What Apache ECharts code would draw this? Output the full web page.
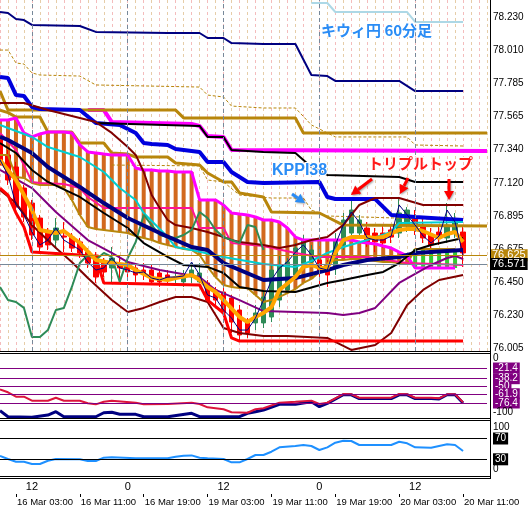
<!DOCTYPE html>
<html>
<head>
<meta charset="utf-8">
<script src="https://cdn.jsdelivr.net/npm/echarts@6/dist/echarts.min.js"></script>
<style>
  html, body { margin: 0; padding: 0; background: #fff; }
  #chart { width: 531px; height: 512px; }
</style>
</head>
<body>
<div id="chart"></div>
<script>
// hourly bars: 16 Mar 01:00-23:00, then 19 Mar 00:00 .. 20 Mar 14:00 (last three bars empty)
function hourLabels(day, from, to) {
  const out = [];
  for (let h = from; h <= to; h++) out.push(day + ' ' + String(h).padStart(2, '0') + ':00');
  return out;
}
const categories = [].concat(hourLabels('16 Mar', 1, 23), hourLabels('19 Mar', 0, 23), hourLabels('20 Mar', 0, 14));
const timeTicks = ['16 Mar 03:00', '16 Mar 11:00', '16 Mar 19:00', '19 Mar 03:00', '19 Mar 11:00', '19 Mar 19:00', '20 Mar 03:00', '20 Mar 11:00'];
const sessionMarks = { '16 Mar 05:00': '12', '16 Mar 17:00': '0', '19 Mar 05:00': '12', '19 Mar 17:00': '0', '20 Mar 05:00': '12' };
const priceTicks = ['76.005', '76.230', '76.450', '76.675', '76.895', '77.120', '77.340', '77.565', '77.785', '78.010', '78.230'];

// [open, close, low, high]
const candles = [
  [77.406, 77.237, 77.204, 77.440], [77.305, 77.136, 77.103, 77.338], [77.224, 76.954, 76.921, 77.258],
  [77.082, 76.887, 76.853, 77.103], [76.981, 76.766, 76.732, 77.002], [76.880, 76.685, 76.645, 76.901],
  [76.786, 76.699, 76.665, 76.813], [76.732, 76.813, 76.685, 76.880], [76.759, 76.752, 76.651, 76.853],
  [76.752, 76.678, 76.651, 76.779], [76.719, 76.645, 76.611, 76.746], [76.651, 76.577, 76.544, 76.678],
  [76.631, 76.483, 76.443, 76.651], [76.584, 76.517, 76.483, 76.611], [76.544, 76.611, 76.443, 76.685],
  [76.564, 76.544, 76.443, 76.631], [76.577, 76.517, 76.476, 76.611], [76.544, 76.497, 76.450, 76.577],
  [76.530, 76.510, 76.463, 76.577], [76.530, 76.450, 76.429, 76.564], [76.510, 76.450, 76.416, 76.530],
  [76.497, 76.476, 76.443, 76.530], [76.476, 76.483, 76.443, 76.530], [76.450, 76.497, 76.416, 76.530],
  [76.483, 76.530, 76.443, 76.577], [76.450, 76.510, 76.443, 76.577], [76.443, 76.328, 76.308, 76.463],
  [76.396, 76.328, 76.295, 76.416], [76.382, 76.241, 76.214, 76.409], [76.342, 76.180, 76.106, 76.362],
  [76.261, 76.093, 76.059, 76.295], [76.180, 76.106, 76.073, 76.207], [76.174, 76.241, 76.126, 76.295],
  [76.174, 76.349, 76.140, 76.396], [76.214, 76.530, 76.180, 76.564], [76.328, 76.564, 76.281, 76.631],
  [76.396, 76.584, 76.375, 76.611], [76.497, 76.678, 76.463, 76.712], [76.577, 76.732, 76.544, 76.766],
  [76.584, 76.665, 76.564, 76.699], [76.598, 76.517, 76.429, 76.631], [76.571, 76.497, 76.416, 76.598],
  [76.544, 76.732, 76.497, 76.779], [76.699, 76.867, 76.665, 76.914], [76.779, 76.934, 76.732, 77.002],
  [76.779, 76.867, 76.746, 76.901], [76.813, 76.719, 76.685, 76.853], [76.779, 76.719, 76.651, 76.813],
  [76.779, 76.712, 76.678, 76.833], [76.800, 76.752, 76.712, 76.833], [76.779, 76.914, 76.746, 77.022],
  [76.833, 76.934, 76.786, 76.954], [76.880, 76.813, 76.766, 76.934], [76.820, 76.746, 76.712, 76.880],
  [76.766, 76.699, 76.665, 76.813], [76.786, 76.746, 76.699, 76.833], [76.746, 76.833, 76.712, 76.981],
  [76.779, 76.867, 76.746, 76.914], [76.786, 76.645, 76.551, 76.833]
];

// cloud boundaries per bar
const spanA = [77.540, 77.540, 77.554, 77.453, 77.426, 77.446, 77.459, 77.459, 77.459, 77.453, 77.372, 77.325, 77.318, 77.311, 77.305, 77.305, 77.305, 77.217, 77.204, 77.204, 77.197, 77.197, 77.190, 77.190, 77.190, 77.002, 77.002, 77.002, 76.968, 76.914, 76.907, 76.901, 76.887, 76.867, 76.867, 76.853, 76.813, 76.752, 76.732, 76.732, 76.732, 76.732, 76.732, 76.732, 76.732, 76.719, 76.712, 76.705, 76.692, 76.678, 76.651, 76.625, 76.544, 76.544, 76.544, 76.544, 76.544, 76.544];
const spanB = [77.305, 77.305, 77.156, 77.150, 77.116, 77.103, 77.103, 77.103, 77.082, 77.002, 76.901, 76.820, 76.806, 76.800, 76.793, 76.786, 76.779, 76.759, 76.746, 76.732, 76.712, 76.699, 76.685, 76.672, 76.665, 76.631, 76.551, 76.483, 76.429, 76.416, 76.409, 76.409, 76.362, 76.315, 76.328, 76.349, 76.375, 76.402, 76.443, 76.470, 76.517, 76.577, 76.598, 76.598, 76.604, 76.604, 76.598, 76.591, 76.584, 76.584, 76.577, 76.571, 76.672, 76.672, 76.672, 76.672, 76.672, 76.672];

// indicator lines: [bar, price]
const lightBlue = [[39, 78.328], [41, 78.328], [42, 78.267], [51, 78.267], [52, 78.200], [58, 78.200]];
const navyTop = [[0, 78.267], [1, 78.260], [2, 78.220], [3, 78.213], [4, 78.180], [10, 78.173], [12, 78.133], [21, 78.126], [25, 78.126], [26, 78.092], [28, 78.092], [29, 78.058], [33, 78.052], [37, 78.052], [39, 77.843], [41, 77.836], [42, 77.803], [50, 77.803], [52, 77.735], [58, 77.735]];
const goldDashUpper = [[0, 78.011], [1, 78.011], [2, 77.924], [3, 77.917], [4, 77.857], [5, 77.843], [10, 77.836], [12, 77.776], [25, 77.762], [26, 77.708], [28, 77.695], [29, 77.634], [33, 77.621], [37, 77.621], [39, 77.507], [42, 77.426], [51, 77.426], [52, 77.372], [58, 77.365]];
const goldUpper = [[0, 77.735], [1, 77.607], [22, 77.607], [23, 77.554], [37, 77.554], [38, 77.453], [61, 77.453]];
const goldLower = [[0, 77.607], [1, 77.590], [2, 77.560], [5, 77.560], [6, 77.459], [9, 77.459], [10, 77.385], [13, 77.385], [14, 77.318], [16, 77.311], [17, 77.291], [21, 77.291], [22, 77.251], [25, 77.237], [26, 77.183], [28, 77.123], [29, 77.123], [30, 77.049], [33, 77.022], [34, 76.921], [40, 76.914], [41, 76.887], [43, 76.833], [61, 76.827]];
const goldDashLower = [[14, 77.237], [25, 77.231], [26, 77.136], [28, 77.123], [30, 77.035], [34, 77.015], [38, 77.015], [39, 76.934], [41, 76.894], [58, 76.867]];
const magentaUpper = [[11, 77.607], [13, 77.607], [14, 77.527], [24, 77.513], [25, 77.500], [26, 77.432], [28, 77.426], [29, 77.338], [61, 77.331]];
const blueLine = [[0, 77.830], [1, 77.823], [2, 77.708], [3, 77.702], [4, 77.628], [5, 77.614], [10, 77.607], [12, 77.520], [15, 77.507], [17, 77.453], [18, 77.385], [19, 77.379], [21, 77.372], [22, 77.345], [25, 77.325], [26, 77.257], [28, 77.257], [29, 77.190], [31, 77.123], [33, 77.116], [40, 77.123], [41, 77.022], [42, 77.008], [47, 77.008], [49, 76.901], [52, 76.887], [58, 76.867]];
const blackUpper = [[12, 77.520], [25, 77.500], [26, 77.426], [28, 77.426], [29, 77.338], [33, 77.325], [37, 77.318], [38, 77.271], [39, 77.224], [41, 77.170], [50, 77.156], [52, 77.123], [58, 77.123]];
const cyanLine = [[0, 77.507], [1, 77.486], [4, 77.426], [6, 77.358], [10, 77.291], [13, 77.190], [15, 77.082], [17, 77.002], [18, 76.914], [21, 76.752], [22, 76.685], [24, 76.665], [28, 76.618], [33, 76.571], [37, 76.551], [39, 76.591], [41, 76.645], [43, 76.685], [46, 76.732], [49, 76.786], [50, 76.847], [58, 76.853]];
const pinkLine = [[0, 77.453], [2, 77.338], [3, 77.237], [4, 77.123], [5, 77.116], [8, 77.109], [10, 77.082], [11, 77.022], [13, 76.948], [24, 76.948], [25, 76.813], [28, 76.813], [29, 76.712], [33, 76.692], [37, 76.645], [40, 76.618], [46, 76.618], [51, 76.577], [58, 76.564]];
const navyMA = [[0, 77.426], [1, 77.406], [4, 77.318], [6, 77.224], [10, 77.089], [13, 76.981], [16, 76.880], [20, 76.779], [24, 76.685], [26, 76.665], [28, 76.577], [33, 76.463], [37, 76.476], [41, 76.530], [43, 76.564], [46, 76.598], [50, 76.618], [52, 76.645], [58, 76.665]];
const blackMA = [[0, 77.385], [2, 77.318], [4, 77.204], [6, 77.123], [10, 77.022], [13, 76.914], [16, 76.813], [18, 76.712], [21, 76.618], [23, 76.564], [26, 76.551], [28, 76.510], [30, 76.416], [33, 76.389], [37, 76.382], [41, 76.443], [43, 76.463], [46, 76.497], [48, 76.517], [50, 76.577], [52, 76.665], [54, 76.699], [58, 76.746]];
const maroonUpper = [[0, 77.655], [3, 77.655], [6, 77.607], [12, 77.527], [14, 77.453], [16, 77.358], [17, 77.305], [18, 77.190], [19, 77.035], [20, 76.948], [21, 76.867], [22, 76.833], [24, 76.813], [26, 76.786], [28, 76.752], [29, 76.732], [30, 76.719], [33, 76.699], [35, 76.678], [37, 76.699], [39, 76.732], [41, 76.752], [43, 76.833], [45, 76.968], [47, 77.015], [50, 77.015], [53, 76.968], [58, 76.968]];
const maroonLower = [[0, 77.069], [2, 76.981], [4, 76.833], [7, 76.678], [9, 76.584], [11, 76.476], [14, 76.328], [16, 76.248], [18, 76.275], [20, 76.315], [22, 76.349], [24, 76.349], [26, 76.315], [28, 76.140], [30, 76.106], [33, 76.086], [36, 76.086], [41, 76.073], [44, 75.992], [47, 76.025], [49, 76.106], [51, 76.295], [53, 76.396], [55, 76.463], [58, 76.497]];
const purpleLine = [[0, 77.204], [4, 77.082], [7, 76.921], [11, 76.732], [14, 76.645], [16, 76.584], [20, 76.530], [25, 76.483], [27, 76.396], [30, 76.328], [33, 76.254], [41, 76.241], [43, 76.227], [45, 76.241], [47, 76.275], [50, 76.443], [54, 76.564], [56, 76.611], [57, 76.625], [58, 76.604]];
const lowestLow = [[0, 77.082], [1, 77.035], [2, 76.914], [3, 76.820], [4, 76.651], [10, 76.631], [12, 76.618], [13, 76.443], [25, 76.429], [26, 76.328], [28, 76.241], [29, 76.073], [30, 76.052], [58, 76.052]];
const chikou = [[0, 76.416], [1, 76.328], [2, 76.315], [3, 76.275], [4, 76.079], [5, 76.079], [6, 76.126], [7, 76.261], [8, 76.275], [9, 76.416], [10, 76.577], [11, 76.631], [12, 76.598], [13, 76.645], [14, 76.618], [15, 76.450], [16, 76.611], [17, 76.719], [18, 76.901], [19, 76.833], [20, 76.766], [21, 76.752], [22, 76.746], [23, 76.766], [24, 76.800], [25, 76.921], [26, 76.880], [27, 76.800], [28, 76.752], [29, 76.732], [30, 76.712], [31, 76.833], [32, 76.820], [33, 76.665]];
const orangeMA = [[0, 77.271], [2, 77.136], [4, 76.934], [5, 76.800], [7, 76.779], [8, 76.793], [10, 76.712], [12, 76.598], [14, 76.577], [16, 76.564], [17, 76.530], [19, 76.476], [21, 76.463], [22, 76.476], [24, 76.497], [25, 76.463], [26, 76.416], [27, 76.382], [28, 76.328], [30, 76.214], [31, 76.180], [32, 76.214], [33, 76.241], [34, 76.281], [35, 76.396], [37, 76.483], [38, 76.551], [39, 76.564], [40, 76.544], [41, 76.544], [42, 76.645], [43, 76.732], [44, 76.752], [46, 76.752], [47, 76.746], [48, 76.752], [50, 76.800], [51, 76.806], [52, 76.806], [53, 76.793], [55, 76.746], [56, 76.773], [57, 76.786], [58, 76.719]];
const closeLine = [77.271, 77.170, 76.968, 76.901, 76.786, 76.699, 76.732, 76.813, 76.732, 76.699, 76.665, 76.584, 76.530, 76.544, 76.611, 76.544, 76.530, 76.510, 76.517, 76.476, 76.463, 76.483, 76.483, 76.490, 76.584, 76.497, 76.362, 76.342, 76.261, 76.207, 76.126, 76.126, 76.207, 76.328, 76.463, 76.544, 76.584, 76.651, 76.699, 76.631, 76.544, 76.530, 76.699, 76.833, 76.921, 76.853, 76.746, 76.732, 76.732, 76.759, 76.968, 76.901, 76.833, 76.759, 76.712, 76.759, 76.934, 76.853, 76.631];

// sub window 1 (-100..0) and RSI
const oscRed = [[0, -54.9], [1, -59.6], [2, -66.5], [3, -66.5], [4, -72.8], [6, -72.8], [7, -68.1], [8, -72.8], [10, -72.8], [11, -76.9], [12, -78.5], [13, -74.4], [14, -72.8], [17, -75.9], [18, -78.5], [21, -78], [24, -75.9], [25, -78], [26, -83.2], [28, -86.3], [29, -91], [31, -91.7], [32, -86.3], [33, -84.7], [35, -75.9], [37, -74.4], [39, -72.8], [40, -78], [41, -75.9], [43, -62.3], [44, -62.7], [45, -68.1], [49, -68.1], [50, -62.3], [51, -62.7], [52, -68.1], [54, -68.1], [55, -69], [56, -62.7], [57, -62.7], [58, -75.3]];
const oscNavy = [[0, -88.5], [1, -98], [4, -98.9], [6, -95.3], [7, -90.1], [8, -98], [12, -98], [13, -91.7], [14, -91], [15, -94.2], [17, -94.2], [18, -98], [21, -98], [24, -92.6], [25, -98], [30, -98], [31, -92.6], [32, -90.1], [33, -87.4], [35, -78.5], [37, -78.5], [39, -74.4], [40, -82.2], [41, -76.9], [43, -63.5], [44, -63.5], [45, -69.5], [49, -69.5], [50, -63.5], [51, -63.5], [52, -69.5], [54, -69.5], [55, -70], [56, -63.5], [57, -63.5], [58, -76.5]];
const oscLevels = [-21.4, -38.2, -50, -61.9, -76.4];
const rsi = [[0, 36.3], [1, 30.6], [2, 25.4], [3, 25.4], [4, 21], [5, 21], [6, 27.3], [7, 30.6], [10, 30], [11, 26.7], [12, 26.7], [13, 33.1], [14, 33.8], [17, 31.9], [21, 31.9], [22, 35], [23, 37], [24, 37.5], [25, 33], [26, 31.9], [28, 30.6], [29, 24.2], [30, 24.2], [31, 30.6], [32, 38.3], [33, 38.3], [34, 44.6], [35, 53], [37, 55.6], [38, 57.5], [39, 55.6], [40, 47.9], [41, 53], [42, 61.9], [43, 65.8], [44, 65.2], [45, 57.5], [49, 57.5], [50, 63.8], [51, 60.8], [52, 53], [54, 52.3], [55, 55.6], [56, 58.8], [57, 57.5], [58, 46]];
const rsiLevels = [70, 30];

const FONT = 'Liberation Sans';
const CLEAR = 'rgba(0,0,0,0)';

function line(data, color, width, type, axis) {
  return {
    type: 'line', data: data, xAxisIndex: axis || 0, yAxisIndex: axis || 0,
    symbol: 'none', silent: true, animation: false,
    lineStyle: { color: color, width: width, type: type || 'solid' }
  };
}

function tag(text, bg) {
  return { formatter: text, color: '#fff', backgroundColor: bg, padding: [1, 2, 0, 2] };
}

// a plain scale number placed next to an invisible level line
function scaleText(value, text, dy) {
  return { yAxis: value, lineStyle: { color: CLEAR }, label: { formatter: text, color: '#000', backgroundColor: CLEAR, offset: [0, dy] } };
}

function arrow(x1, y1, x2, y2, color) {
  const a = Math.atan2(y2 - y1, x2 - x1), L = 9, W = 5;
  const bx = x2 - L * Math.cos(a), by = y2 - L * Math.sin(a);
  const nx = -Math.sin(a) * W, ny = Math.cos(a) * W;
  const shadow = { shadowBlur: 2, shadowColor: 'rgba(0,0,0,0.35)', shadowOffsetX: 1, shadowOffsetY: 1 };
  return [
    { type: 'line', z: 100, shape: { x1: x1, y1: y1, x2: bx, y2: by }, style: Object.assign({ stroke: color, lineWidth: 3 }, shadow) },
    { type: 'polygon', z: 100, shape: { points: [[x2, y2], [bx + nx, by + ny], [bx - nx, by - ny]] }, style: Object.assign({ fill: color }, shadow) }
  ];
}

function hline(y) {
  return { type: 'line', z: 50, shape: { x1: 0, y1: y, x2: 491, y2: y }, style: { stroke: '#000', lineWidth: 1 } };
}

const chart = echarts.init(document.getElementById('chart'));

const option = {
  animation: false,
  backgroundColor: '#fff',
  textStyle: { fontFamily: FONT },
  grid: [
    { left: -1, width: 488, top: 0, height: 351 },
    { left: -1, width: 488, top: 354.4, height: 63.6 },
    { left: -1, width: 488, top: 422.9, height: 52 },
    { left: 490, width: 1, top: 17.5, height: 330.5 },
    { left: -1, width: 488, top: 478, height: 16 }
  ],
  xAxis: [
    {
      gridIndex: 0, type: 'category', data: categories, boundaryGap: false,
      axisLine: { show: false }, axisTick: { show: false }, axisLabel: { show: false },
      splitLine: { show: true, interval: 0, lineStyle: { color: ['#f4bcbc', '#e6cda8'], width: 1, type: [3, 3] } }
    },
    { gridIndex: 1, type: 'category', data: categories, boundaryGap: false, show: false },
    { gridIndex: 2, type: 'category', data: categories, boundaryGap: false, show: false },
    { gridIndex: 3, type: 'value', show: false },
    {
      gridIndex: 4, type: 'category', data: categories, boundaryGap: false, position: 'bottom',
      axisLine: { show: false },
      axisTick: { show: true, length: 3, interval: (i, v) => timeTicks.includes(v), lineStyle: { color: '#000' } },
      axisLabel: { interval: (i, v) => timeTicks.includes(v), align: 'left', margin: 3, fontSize: 9.5, color: '#000', padding: [0, 0, 0, 1] }
    },
    {
      gridIndex: 4, type: 'category', data: categories, boundaryGap: false, position: 'top',
      axisLine: { show: false }, axisTick: { show: false },
      axisLabel: { inside: true, margin: 3, fontSize: 11, color: '#000', interval: (i, v) => v in sessionMarks, formatter: v => sessionMarks[v] || '' }
    }
  ],
  yAxis: [
    { gridIndex: 0, type: 'value', min: 75.985, max: 78.348, show: false },
    { gridIndex: 1, type: 'value', min: -100, max: 0, show: false },
    { gridIndex: 2, type: 'value', min: 0, max: 100, show: false },
    {
      gridIndex: 3, type: 'category', data: priceTicks, boundaryGap: false, position: 'right',
      axisLine: { show: false }, axisTick: { show: false },
      axisLabel: { margin: 2, fontSize: 10, color: '#000' }
    },
    { gridIndex: 4, type: 'value', show: false }
  ],
  series: [
    {
      // ichimoku cloud drawn as thin vertical bars between the two spans
      type: 'custom', xAxisIndex: 0, yAxisIndex: 0, silent: true, clip: true,
      data: spanA.map((a, i) => [i, a, spanB[i]]),
      encode: { x: 0, y: [1, 2] },
      renderItem: function (params, api) {
        const top = api.coord([api.value(0), api.value(1)]);
        const bot = api.coord([api.value(0), api.value(2)]);
        return {
          type: 'rect',
          shape: { x: top[0] - 2, y: Math.min(top[1], bot[1]), width: 4, height: Math.abs(bot[1] - top[1]) },
          style: { fill: api.value(1) >= api.value(2) ? '#d2691e' : '#32cd32' }
        };
      },
      markLine: {
        silent: true, symbol: 'none', animation: false, label: { show: false },
        lineStyle: { color: '#778899', width: 1, type: [4, 3] },
        data: Object.keys(sessionMarks).map(c => ({ xAxis: c }))
      }
    },
    line(lightBlue, '#add8e6', 2),
    line(navyTop, '#000080', 2),
    line(goldDashUpper, '#b8860b', 1, [3, 2]),
    line(goldDashLower, '#b8860b', 1, [3, 2]),
    line(magentaUpper, '#ff00ff', 4),
    line(goldUpper, '#b8860b', 3),
    line(goldLower, '#b8860b', 3),
    line(spanB.map((v, i) => [i, v]), '#b8860b', 2),
    line(spanA.map((v, i) => [i, v]), '#ff00ff', 3),
    line(blueLine, '#0000dd', 4),
    line(blackUpper, '#000000', 2),
    line(pinkLine, '#ff1493', 2),
    line(cyanLine, '#00ced1', 2),
    line(maroonUpper, '#800000', 2),
    line(maroonLower, '#800000', 2),
    line(purpleLine, '#800080', 2),
    line(lowestLow, '#ff0000', 3),
    line(chikou, '#2e8b57', 2),
    line(navyMA, '#000080', 4),
    line(blackMA, '#000000', 2),
    {
      type: 'candlestick', xAxisIndex: 0, yAxisIndex: 0, data: candles, barWidth: 5, barMinWidth: 5, silent: true,
      itemStyle: { color: '#2e8b57', color0: '#ff0000', borderColor: '#2e8b57', borderColor0: '#ff0000', borderWidth: 1 },
      markLine: {
        silent: true, symbol: 'none', animation: false,
        label: { position: 'end', distance: 3, fontSize: 11, fontFamily: FONT },
        data: [
          { yAxis: 76.625, lineStyle: { color: '#b8860b', width: 1, type: 'solid' }, label: tag('76.625', '#b8860b') },
          { yAxis: 76.571, lineStyle: { color: '#778899', width: 1, type: 'solid' }, label: tag('76.571', '#000') }
        ]
      }
    },
    line(orangeMA, '#ffa500', 4),
    line(closeLine.map((v, i) => [i, v]), '#000080', 1),

    line(oscNavy, '#000080', 3, 'solid', 1),
    Object.assign(line(oscRed, '#dc143c', 2, 'solid', 1), {
      markLine: {
        silent: true, symbol: 'none', animation: false,
        lineStyle: { color: '#800080', width: 1, type: 'solid' },
        label: { position: 'end', distance: 6, fontSize: 10, fontFamily: FONT, lineHeight: 10 },
        data: oscLevels.map(v => ({ yAxis: v, label: tag(String(v), '#800080') })).concat([
          scaleText(0, '0', 4),
          scaleText(-100, '-100', -6)
        ])
      }
    }),
    Object.assign(line(rsi, '#1e90ff', 2, 'solid', 2), {
      markLine: {
        silent: true, symbol: 'none', animation: false,
        lineStyle: { color: '#000', width: 1, type: 'solid' },
        label: { position: 'end', distance: 6, fontSize: 10, fontFamily: FONT, lineHeight: 11 },
        data: rsiLevels.map(v => ({ yAxis: v, label: tag(String(v), '#000') })).concat([
          scaleText(100, '100', 4),
          scaleText(0, '0', -6)
        ])
      }
    })
  ],
  graphic: [
    hline(351.5), hline(353.5), hline(418.5), hline(420.5), hline(476.5), hline(478.5),
    { type: 'line', z: 50, shape: { x1: 490.5, y1: 0, x2: 490.5, y2: 478.5 }, style: { stroke: '#000', lineWidth: 1 } },
    {
      type: 'text', z: 100, left: 320, top: 22,
      style: {
        text: 'キウィ円 60分足', fill: '#2a8cf5', font: 'bold 15px "Noto Sans CJK JP"',
        stroke: '#fff', lineWidth: 2, shadowBlur: 3, shadowColor: 'rgba(0,0,0,0.45)', shadowOffsetX: 2, shadowOffsetY: 2
      }
    },
    {
      type: 'text', z: 100, left: 271, top: 162,
      style: {
        text: 'KPPI38', fill: '#2a8cf5', font: 'bold 16px "Liberation Sans"',
        stroke: '#fff', lineWidth: 2, shadowBlur: 3, shadowColor: 'rgba(0,0,0,0.45)', shadowOffsetX: 2, shadowOffsetY: 2
      }
    },
    {
      type: 'text', z: 100, left: 367, top: 155,
      style: {
        text: 'トリプルトップ', fill: '#ff1a1a', font: 'bold 15px "Noto Sans CJK JP"',
        stroke: '#fff', lineWidth: 2, shadowBlur: 3, shadowColor: 'rgba(0,0,0,0.45)', shadowOffsetX: 2, shadowOffsetY: 2
      }
    }
  ].concat(
    arrow(372, 179, 351, 195, '#ff0000'),
    arrow(408, 178, 400, 194, '#ff0000'),
    arrow(449, 179, 449, 200, '#ff0000'),
    arrow(292, 194, 305, 203, '#2a8cf5')
  )
};

chart.setOption(option);
window.addEventListener('resize', () => chart.resize());
</script>
</body>
</html>
